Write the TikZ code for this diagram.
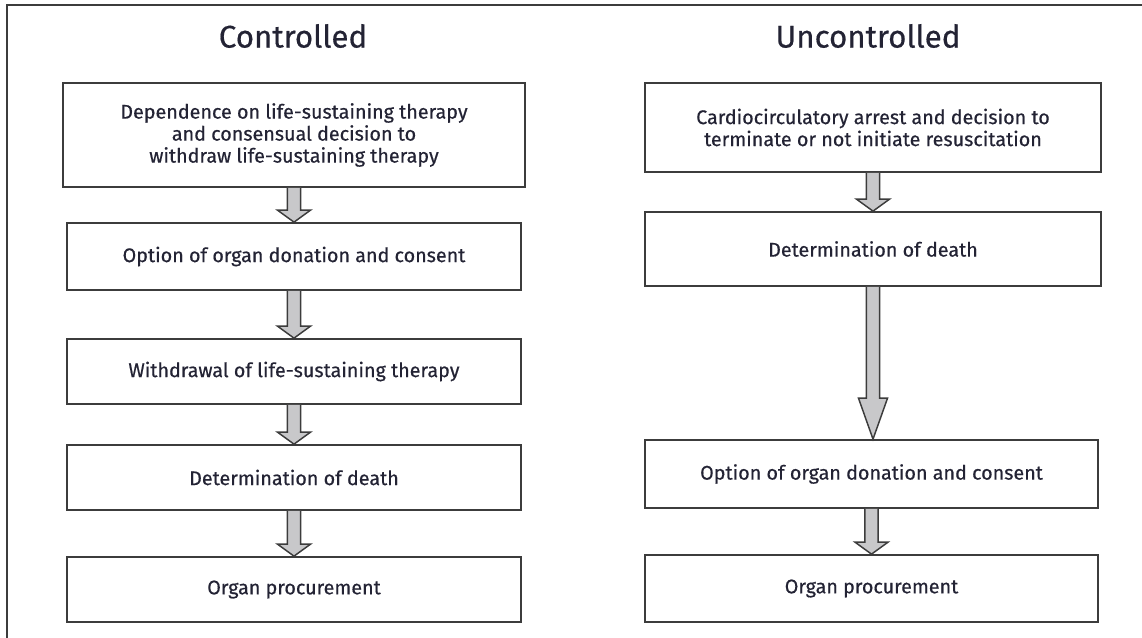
\documentclass[tikz,border=0pt]{standalone}
\usepackage{fontspec}
\setmainfont{Fira Sans}
\newfontfamily\boxfont{Fira Sans}[FakeBold=0.5]
\usetikzlibrary{calc}

\definecolor{txt}{RGB}{35,35,52}
\definecolor{edge}{RGB}{60,60,60}
\definecolor{arrowgrey}{RGB}{200,200,202}

\tikzset{
  box/.style={draw=edge, line width=1.3pt, rectangle, align=center, text=txt,
    font=\boxfont\fontsize{14.8}{16.5}\selectfont, inner sep=0pt},
  headline/.style={text=txt, font=\boxfont\fontsize{23.5}{26}\selectfont},
  flowarrow/.style={draw=edge, fill=arrowgrey, line width=1.1pt, line join=miter}
}

% block arrow from the bottom of #1 to the top of #2, head half width #3, head length #4
\newcommand{\flowarrow}[4]{%
  \draw[flowarrow] let \p1=(#1.south), \p2=(#2.north) in
    (\x1-4.9pt,\y1) -- (\x1-4.9pt,\y2+#4) -- (\x1-#3,\y2+#4) -- (\x1,\y2)
    -- (\x1+#3,\y2+#4) -- (\x1+4.9pt,\y2+#4) -- (\x1+4.9pt,\y1);}

\begin{document}
\begin{tikzpicture}[x=0.75pt,y=-0.75pt]
  \useasboundingbox (0,0) rectangle (1142,638);
  \draw[edge, line width=1.2pt] (7,638) -- (7,5) -- (1142,5);

  \node[headline] (ctitle) at (293,36) {Controlled};
  \node[headline] (utitle) at (868,36) {Uncontrolled};

  % controlled
  \node[box, minimum width=346.5pt, minimum height=78pt] (c1) at (294,135)
    {Dependence on life-sustaining therapy\\and consensual decision to\\withdraw life-sustaining therapy};
  \node[box, minimum width=340.5pt, minimum height=50.25pt] (c2) at (294,256.5)
    {Option of organ donation and consent};
  \node[box, minimum width=340.5pt, minimum height=48.75pt] (c3) at (294,371.5)
    {Withdrawal of life-sustaining therapy};
  \node[box, minimum width=340.5pt, minimum height=48.75pt] (c4) at (294,477.5)
    {Determination of death};
  \node[box, minimum width=340.5pt, minimum height=48.75pt] (c5) at (294,589.5)
    {Organ procurement};

  % uncontrolled
  \node[box, minimum width=342pt, minimum height=66.75pt] (u1) at (873,127.5)
    {Cardiocirculatory arrest and decision to\\terminate or not initiate resuscitation};
  \node[box, minimum width=342pt, minimum height=55.5pt] (u2) at (873,249)
    {Determination of death};
  \node[box, minimum width=339.75pt, minimum height=51pt] (u3) at (871.5,474)
    {Option of organ donation and consent};
  \node[box, minimum width=339.75pt, minimum height=50.25pt] (u4) at (871.5,588.5)
    {Organ procurement};

  \flowarrow{c1}{c2}{12.4pt}{9pt}
  \flowarrow{c2}{c3}{12.4pt}{9pt}
  \flowarrow{c3}{c4}{12.4pt}{9pt}
  \flowarrow{c4}{c5}{12.4pt}{9pt}
  \flowarrow{u1}{u2}{12.4pt}{9pt}
  \flowarrow{u2}{u3}{10.9pt}{30.75pt}
  \flowarrow{u3}{u4}{12.4pt}{9pt}
\end{tikzpicture}
\end{document}
